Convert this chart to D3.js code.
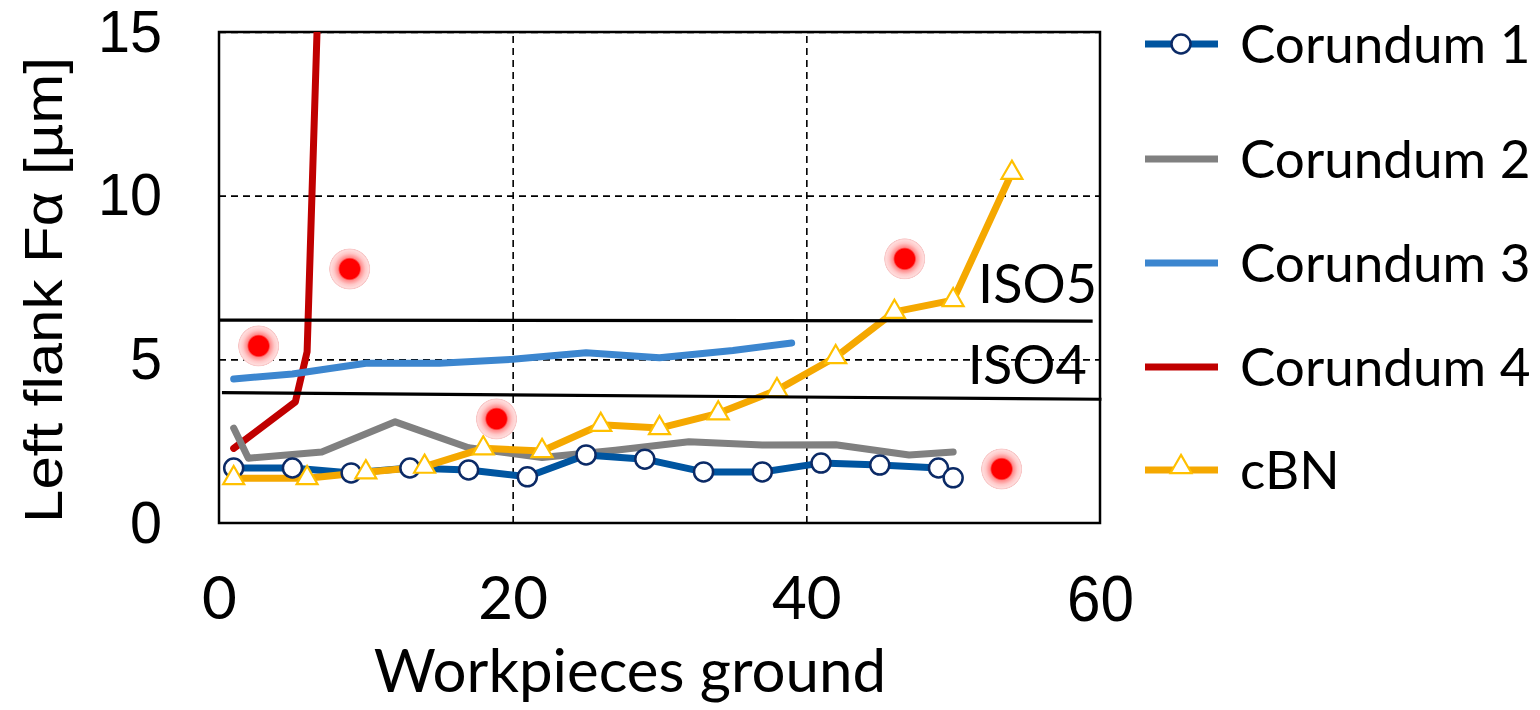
<!DOCTYPE html>
<html>
<head>
<meta charset="utf-8">
<script src="https://cdn.jsdelivr.net/npm/d3@7"></script>
<style>
  body { margin: 0; background: #fff; }
  svg { display: block; }
</style>
</head>
<body>
<div id="chart"></div>
<script>
'use strict';

// values
var seriesNames = ['Corundum 1', 'Corundum 2', 'Corundum 3', 'Corundum 4', 'cBN'];

var corundum1X = [1, 5, 9, 13, 17, 21, 25, 29, 33, 37, 41, 45, 49, 50];
var corundum1Y = [1.68, 1.68, 1.53, 1.68, 1.62, 1.41, 2.08, 1.95, 1.56, 1.56, 1.83, 1.77, 1.68, 1.38];

var corundum2X = [1, 2, 7, 12, 17, 22, 27, 32, 37, 42, 47, 50];
var corundum2Y = [2.9, 1.98, 2.17, 3.09, 2.3, 2.0, 2.22, 2.48, 2.38, 2.39, 2.08, 2.17];

var corundum3X = [1, 5, 10, 15, 20, 25, 30, 35, 39];
var corundum3Y = [4.4, 4.55, 4.88, 4.88, 5.0, 5.2, 5.05, 5.27, 5.5];

var corundum4X = [1, 5.2, 6, 7];
var corundum4Y = [2.28, 3.7, 5.23, 19.7];

var cbnX = [1, 6, 10, 14, 18, 22, 26, 30, 34, 38, 42, 46, 50, 54];
var cbnY = [1.37, 1.37, 1.55, 1.72, 2.28, 2.2, 3.0, 2.9, 3.35, 4.06, 5.07, 6.45, 6.81, 10.7];

// ISO tolerance limits (drawn as slightly sloped straight lines)
var iso5X = [0, 59.5], iso5Y = [6.2, 6.17];
var iso4X = [0.2, 60.1], iso4Y = [3.98, 3.78];

// highlighted spots
var spotX = [2.7, 8.9, 18.9, 46.7, 53.3];
var spotY = [5.41, 7.76, 3.18, 8.07, 1.65];

var xTicks = [0, 20, 40, 60];
var yTicks = [0, 5, 10, 15];

var W = 1540, H = 710;
var margin = {top: 32, left: 219, right: 440, bottom: 187};
var width = W - margin.left - margin.right,
    height = H - margin.top - margin.bottom;

var calibri = 'Lato, "Open Sans", sans-serif';
var arial = '"Liberation Sans", Arial, sans-serif';

var colors = ['#0055a0', '#808080', '#3c86cf', '#c00000', '#f5a800'];

var svg = d3.select('#chart').append('svg')
    .attr('width', W)
    .attr('height', H);

var defs = svg.append('defs');
defs.append('clipPath').attr('id', 'plotclip')
  .append('rect').attr('width', width).attr('height', height);

var glow = defs.append('radialGradient').attr('id', 'glow');
[[0, '#ff0000', 1], [0.47, '#ff0000', 1], [0.55, '#ff8c8c', 1], [0.75, '#ffc8c8', 1],
 [0.9, '#ffdcdc', 1], [0.96, '#f7c4c4', 1], [1, '#ffffff', 0]].forEach(function(s) {
  glow.append('stop').attr('offset', s[0]).attr('stop-color', s[1]).attr('stop-opacity', s[2]);
});

var g = svg.append('g')
    .attr('transform', 'translate(' + margin.left + ',' + margin.top + ')');

var x = d3.scaleLinear().domain([0, 60]).range([0, width]);
var y = d3.scaleLinear().domain([0, 15]).range([height, 0]);

// dashed grid
g.append('g')
  .attr('class', 'grid')
  .attr('transform', 'translate(0,' + height + ')')
  .call(d3.axisBottom(x).tickValues([20, 40]).tickSize(-height).tickFormat(''))
  .call(function(s) { s.select('.domain').remove(); });
g.append('g')
  .attr('class', 'grid')
  .call(d3.axisLeft(y).tickValues([5, 10, 15]).tickSize(-width).tickFormat(''))
  .call(function(s) { s.select('.domain').remove(); });
g.selectAll('.grid line')
  .attr('stroke', '#000')
  .attr('stroke-width', 1.6)
  .attr('stroke-dasharray', '7,5');

g.append('rect')
  .attr('width', width)
  .attr('height', height)
  .attr('fill', 'none')
  .attr('stroke', '#000')
  .attr('stroke-width', 2.5);

// tick labels (the arial ones are a bit narrow in the original)
var yAxis = g.append('g')
  .call(d3.axisLeft(y).tickValues(yTicks).tickSize(0).tickPadding(57).tickFormat(d3.format('d')));
yAxis.select('.domain').remove();
yAxis.selectAll('text')
  .attr('font-family', arial)
  .attr('font-size', 60)
  .attr('textLength', function(d) { return String(d).length * 32; })
  .attr('lengthAdjust', 'spacingAndGlyphs')
  .attr('fill', '#000');

var xAxis = g.append('g')
  .attr('transform', 'translate(0,' + height + ')')
  .call(d3.axisBottom(x).tickValues(xTicks).tickSize(0).tickPadding(53).tickFormat(d3.format('d')));
xAxis.select('.domain').remove();
xAxis.selectAll('text')
  .attr('font-family', function(d) { return d === 60 ? arial : calibri; })
  .attr('font-size', function(d) { return d === 60 ? 64 : 60; })
  .attr('fill', '#000');
xAxis.selectAll('text')
  .filter(function(d) { return d === 60; })
  .attr('textLength', 67)
  .attr('lengthAdjust', 'spacingAndGlyphs');

// axis titles
svg.append('text')
  .attr('x', 630)
  .attr('y', 692)
  .attr('text-anchor', 'middle')
  .attr('font-family', calibri)
  .attr('font-size', 60)
  .text('Workpieces ground');

svg.append('text')
  .attr('transform', 'translate(62,290) scale(0.9,1) rotate(-90)')
  .attr('text-anchor', 'middle')
  .attr('font-family', arial)
  .attr('font-size', 60)
  .text('Left flank F\u03b1 [\u00b5m]');

function zipXY(xs, ys) {
  return xs.map(function(d, i) { return [d, ys[i]]; });
}

var data = [
  zipXY(corundum1X, corundum1Y),
  zipXY(corundum2X, corundum2Y),
  zipXY(corundum3X, corundum3Y),
  zipXY(corundum4X, corundum4Y),
  zipXY(cbnX, cbnY)
];

var line = d3.line()
  .x(function(d) { return x(d[0]); })
  .y(function(d) { return y(d[1]); });

var drawOrder = [3, 2, 1, 0, 4];
var series = g.append('g').attr('clip-path', 'url(#plotclip)');
drawOrder.forEach(function(i) {
  series.append('path')
    .datum(data[i])
    .attr('fill', 'none')
    .attr('stroke', colors[i])
    .attr('stroke-width', 7)
    .attr('stroke-linejoin', 'round')
    .attr('stroke-linecap', 'round')
    .attr('d', line);
});

var triangle = d3.symbol().type(d3.symbolTriangle).size(190);

function drawCircle(sel) {
  sel.append('circle')
    .attr('r', 9.5)
    .attr('fill', '#fff')
    .attr('stroke', '#0b2a66')
    .attr('stroke-width', 2.5);
}
function drawTriangle(sel) {
  sel.append('path')
    .attr('d', triangle)
    .attr('fill', '#fff')
    .attr('stroke', '#ffc000')
    .attr('stroke-width', 2.2);
}

g.append('g').selectAll('g')
  .data(data[0])
  .enter().append('g')
  .attr('transform', function(d) { return 'translate(' + x(d[0]) + ',' + y(d[1]) + ')'; })
  .call(drawCircle);

g.append('g').selectAll('g')
  .data(data[4])
  .enter().append('g')
  .attr('transform', function(d) { return 'translate(' + x(d[0]) + ',' + y(d[1]) + ')'; })
  .call(drawTriangle);

// ISO limit lines
[zipXY(iso5X, iso5Y), zipXY(iso4X, iso4Y)].forEach(function(d) {
  g.append('path')
    .datum(d)
    .attr('fill', 'none')
    .attr('stroke', '#000')
    .attr('stroke-width', 3.2)
    .attr('d', line);
});

g.append('text')
  .attr('x', x(59.8))
  .attr('y', y(6.17) - 18)
  .attr('text-anchor', 'end')
  .attr('font-family', calibri)
  .attr('font-size', 54)
  .text('ISO5');
g.append('text')
  .attr('x', x(59.1))
  .attr('y', y(3.98) - 9)
  .attr('text-anchor', 'end')
  .attr('font-family', calibri)
  .attr('font-size', 54)
  .text('ISO4');

// glowing spots
g.append('g').selectAll('circle')
  .data(zipXY(spotX, spotY))
  .enter().append('circle')
  .attr('cx', function(d) { return x(d[0]); })
  .attr('cy', function(d) { return y(d[1]); })
  .attr('r', 21)
  .attr('fill', 'url(#glow)');

// legend
var legend = svg.append('g').attr('transform', 'translate(1145,0)');
var rowY = [44, 159, 263, 367, 470];
seriesNames.forEach(function(name, i) {
  var row = legend.append('g').attr('transform', 'translate(0,' + rowY[i] + ')');
  row.append('line')
    .attr('x1', 0).attr('x2', 73)
    .attr('stroke', colors[i])
    .attr('stroke-width', 7);
  if (i === 0) row.append('g').attr('transform', 'translate(36,0)').call(drawCircle);
  if (i === 4) row.append('g').attr('transform', 'translate(36,-3)').call(drawTriangle);
  row.append('text')
    .attr('x', 95)
    .attr('y', 19)
    .attr('font-family', calibri)
    .attr('font-size', 53)
    .text(name);
});
</script>
</body>
</html>
